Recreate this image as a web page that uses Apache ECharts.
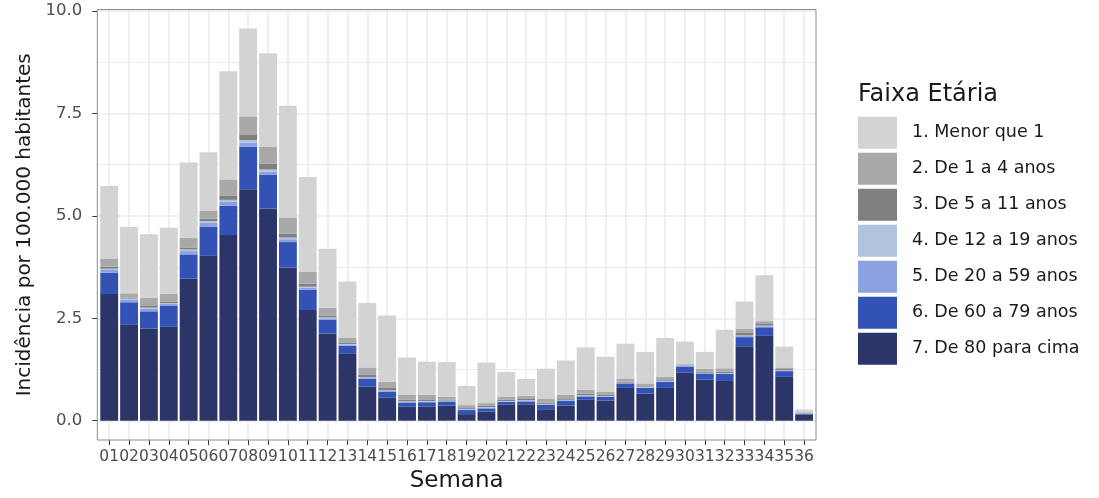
<!DOCTYPE html>
<html><head><meta charset="utf-8">
<script src="https://cdn.jsdelivr.net/npm/echarts@6/dist/echarts.min.js"></script>
<style>html,body{margin:0;padding:0;background:#fff}#chart{width:1099px;height:498px}</style>
</head><body><div id="chart"></div>
<script>
const weeks = ["01","02","03","04","05","06","07","08","09","10","11","12","13","14","15","16","17","18","19","20","21","22","23","24","25","26","27","28","29","30","31","32","33","34","35","36"];
const groupNames = ["1. Menor que 1","2. De 1 a 4 anos","3. De 5 a 11 anos","4. De 12 a 19 anos","5. De 20 a 59 anos","6. De 60 a 79 anos","7. De 80 para cima"];
const groupColors = ["#d3d3d3","#a9a9a9","#808080","#b0c4de","#8da1e0","#3253b5","#2b3568"];

const menor1  = [1.77,1.62,1.55,1.61,1.83,1.43,2.64,2.14,2.29,2.74,2.32,1.44,1.37,1.57,1.62,0.90,0.81,0.85,0.47,0.99,0.60,0.41,0.74,0.84,1.03,0.85,0.85,0.77,0.95,0.55,0.41,0.94,0.67,1.12,0.51,0.07];
const de1a4   = [0.20,0.11,0.20,0.19,0.24,0.19,0.39,0.44,0.40,0.38,0.29,0.19,0.12,0.17,0.15,0.13,0.11,0.07,0.07,0.07,0.08,0.08,0.09,0.10,0.10,0.08,0.08,0.07,0.08,0.02,0.07,0.08,0.10,0.07,0.04,0.02];
const de5a11  = [0.05,0.02,0.04,0.04,0.05,0.06,0.11,0.14,0.15,0.10,0.07,0.05,0.04,0.07,0.06,0.04,0.04,0.02,0.02,0.03,0.03,0.03,0.03,0.02,0.04,0.03,0.02,0.02,0.02,0.01,0.03,0.04,0.06,0.04,0.03,0.01];
const de12a19 = [0.03,0.03,0.03,0.02,0.04,0.04,0.05,0.06,0.05,0.04,0.02,0.02,0.015,0.02,0.015,0.01,0.01,0.01,0.01,0.01,0.01,0.01,0.01,0.01,0.01,0.01,0.01,0.01,0.01,0.01,0.01,0.01,0.015,0.015,0.01,0.005];
const de20a59 = [0.07,0.06,0.06,0.05,0.08,0.09,0.09,0.10,0.08,0.07,0.05,0.04,0.025,0.02,0.015,0.02,0.02,0.02,0.02,0.02,0.01,0.02,0.01,0.02,0.02,0.01,0.01,0.01,0.01,0.02,0.01,0.01,0.025,0.025,0.01,0.01];
const de60a79 = [0.52,0.55,0.42,0.51,0.59,0.70,0.72,1.04,0.82,0.62,0.50,0.33,0.20,0.19,0.15,0.10,0.11,0.09,0.10,0.08,0.07,0.07,0.11,0.11,0.08,0.09,0.11,0.14,0.15,0.14,0.15,0.17,0.22,0.21,0.14,0.02];
const de80    = [3.09,2.34,2.25,2.29,3.47,4.04,4.53,5.65,5.18,3.74,2.70,2.13,1.63,0.83,0.56,0.34,0.34,0.37,0.16,0.22,0.39,0.40,0.28,0.37,0.51,0.49,0.80,0.66,0.80,1.18,1.00,0.97,1.82,2.07,1.07,0.14];

const groupValues = [menor1, de1a4, de5a11, de12a19, de20a59, de60a79, de80];

const FONT = 'DejaVu Sans';
const W = 1099, H = 498;
const P = {l: 97.3, r: 816, t: 9.5, b: 440};
const unit = (P.r - P.l) / 36.2;
const y0 = 420.7, y10 = 11;
const bandL = P.l + 0.1 * unit, bandR = P.r - 0.1 * unit;
const GRIDC = '#ebebeb';

const series = [];
for (let g = groupValues.length - 1; g >= 0; g--) {
  series.push({
    name: groupNames[g],
    type: 'bar',
    stack: 'total',
    xAxisIndex: 1,
    yAxisIndex: 1,
    barCategoryGap: '10%',
    itemStyle: {color: groupColors[g]},
    data: groupValues[g]
  });
}

const chart = echarts.init(document.getElementById('chart'));
chart.setOption({
  animation: false,
  textStyle: {fontFamily: FONT},
  title: {
    text: 'Faixa Etária', left: 853, top: 78,
    textStyle: {fontSize: 24, fontWeight: 'normal', color: '#1a1a1a', fontFamily: FONT}
  },
  legend: {
    orient: 'vertical', left: 853, top: 111.7,
    itemWidth: 39, itemHeight: 32, itemGap: 4, icon: 'rect',
    selectedMode: false,
    data: groupNames,
    textStyle: {fontSize: 17.5, color: '#1a1a1a', fontFamily: FONT, padding: [0, 0, 0, 10]}
  },
  grid: [
    {left: bandL, right: W - bandR, top: P.t, bottom: H - P.b, containLabel: false},
    {left: bandL, right: W - bandR, top: y10, bottom: H - y0, containLabel: false},
    {left: P.l, right: W - P.r, top: y10, bottom: H - y0, containLabel: false}
  ],
  xAxis: [
    {
      gridIndex: 0, type: 'category', data: weeks, boundaryGap: true,
      axisLine: {show: false},
      axisTick: {show: true, alignWithLabel: true, interval: 0, length: 5, lineStyle: {color: '#333333', width: 1}},
      axisLabel: {interval: 0, fontSize: 15.5, color: '#4d4d4d', margin: 9, fontFamily: FONT},
      splitLine: {show: true, interval: 0, alignWithLabel: true, lineStyle: {color: GRIDC, width: 1.6}},
      name: 'Semana', nameLocation: 'middle', nameGap: 30,
      nameTextStyle: {fontSize: 23, color: '#1a1a1a', fontFamily: FONT}
    },
    {gridIndex: 1, type: 'category', data: weeks, boundaryGap: true, show: false},
    {gridIndex: 2, type: 'value', min: 0, max: 1, show: false}
  ],
  yAxis: [
    {
      gridIndex: 0, type: 'value', min: 0, max: 1,
      axisLine: {show: false}, axisTick: {show: false}, axisLabel: {show: false}, splitLine: {show: false},
      name: 'Incidência por 100.000 habitantes', nameLocation: 'middle', nameGap: 64, nameRotate: 90,
      nameTextStyle: {fontSize: 20, color: '#1a1a1a', fontFamily: FONT}
    },
    {gridIndex: 1, type: 'value', min: 0, max: 10, show: false},
    {
      gridIndex: 2, type: 'value', min: 0, max: 10, interval: 2.5,
      axisLine: {show: false},
      axisTick: {show: true, length: 5, lineStyle: {color: '#333333', width: 1}},
      axisLabel: {fontSize: 16.5, color: '#4d4d4d', margin: 15, fontFamily: FONT, formatter: v => v.toFixed(1)},
      splitLine: {show: true, lineStyle: {color: GRIDC, width: 1.6}},
      minorTick: {show: false, splitNumber: 2},
      minorSplitLine: {show: true, lineStyle: {color: GRIDC, width: 1}}
    }
  ],
  graphic: [{
    type: 'rect', z: 100, silent: true,
    shape: {x: P.l, y: P.t, width: P.r - P.l, height: P.b - P.t},
    style: {fill: 'none', stroke: '#8c8c8c', lineWidth: 1}
  }],
  series: series
});
</script>
</body></html>
